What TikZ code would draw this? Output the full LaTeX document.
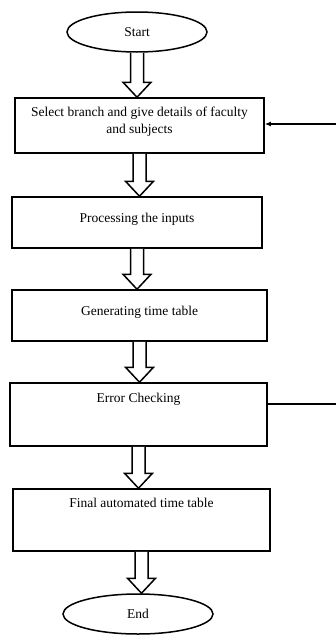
\documentclass[tikz,border=0pt]{standalone}
\usepackage{fontspec}
\setmainfont{Liberation Serif}
\usetikzlibrary{shapes.geometric,arrows.meta,calc}

\begin{document}
\begin{tikzpicture}[x=1pt,y=-1pt,
        font=\fontsize{13.5}{17}\selectfont,
        terminal/.style={ellipse, draw, line width=1.5pt, minimum height=40pt, inner sep=0pt},
        stepbox/.style={rectangle, draw, line width=1.5pt, align=center, inner sep=0pt, text depth=10pt},
        blockarrow/.style={draw, line width=1.5pt, fill=white, line join=miter},
        feedback/.style={line width=1.4pt}]
        \useasboundingbox (0,0) rectangle (336,635);

        % Define the steps
        \node[terminal, minimum width=140pt] (start) at (137,32) {Start};
        \node[stepbox, minimum width=249pt, minimum height=55pt] (select) at (139.5,125.5) {Select branch and give details of faculty\\and subjects};
        \node[stepbox, minimum width=250pt, minimum height=51pt] (proc) at (137,222.5) {Processing the inputs};
        \node[stepbox, minimum width=255pt, minimum height=51pt] (gen) at (139.5,315.5) {Generating time table};
        \node[stepbox, minimum width=257pt, minimum height=63pt, text depth=34pt] (err) at (138.5,414.5) {Error Checking};
        \node[stepbox, minimum width=257pt, minimum height=62pt, text depth=34pt] (final) at (141.5,520) {Final automated time table};
        \node[terminal, minimum width=150pt] (stop) at (138,614) {End};

        % Define the block arrows
        \foreach \a/\b in {start/select, select/proc, proc/gen, gen/err, err/final, final/stop}
            \draw[blockarrow] let \p1=(\a.south), \p2=(\b.north) in
                (\x1-6.5pt,\y1) -- (\x1-6.5pt,\y2+15pt) -- (\x1-14pt,\y2+15pt) -- (\x1,\y2)
                -- (\x1+14pt,\y2+15pt) -- (\x1+6.5pt,\y2+15pt) -- (\x1+6.5pt,\y1);

        % Feedback from error checking
        \coordinate (fbout) at (336,404);
        \coordinate (fbin) at (336,124);
        \draw[feedback] (err.east |- fbout) -- (fbout);
        \draw[feedback, -{Latex[length=6pt,width=5pt]}] (fbin) -- (fbin -| select.east);

    \end{tikzpicture}
\end{document}
